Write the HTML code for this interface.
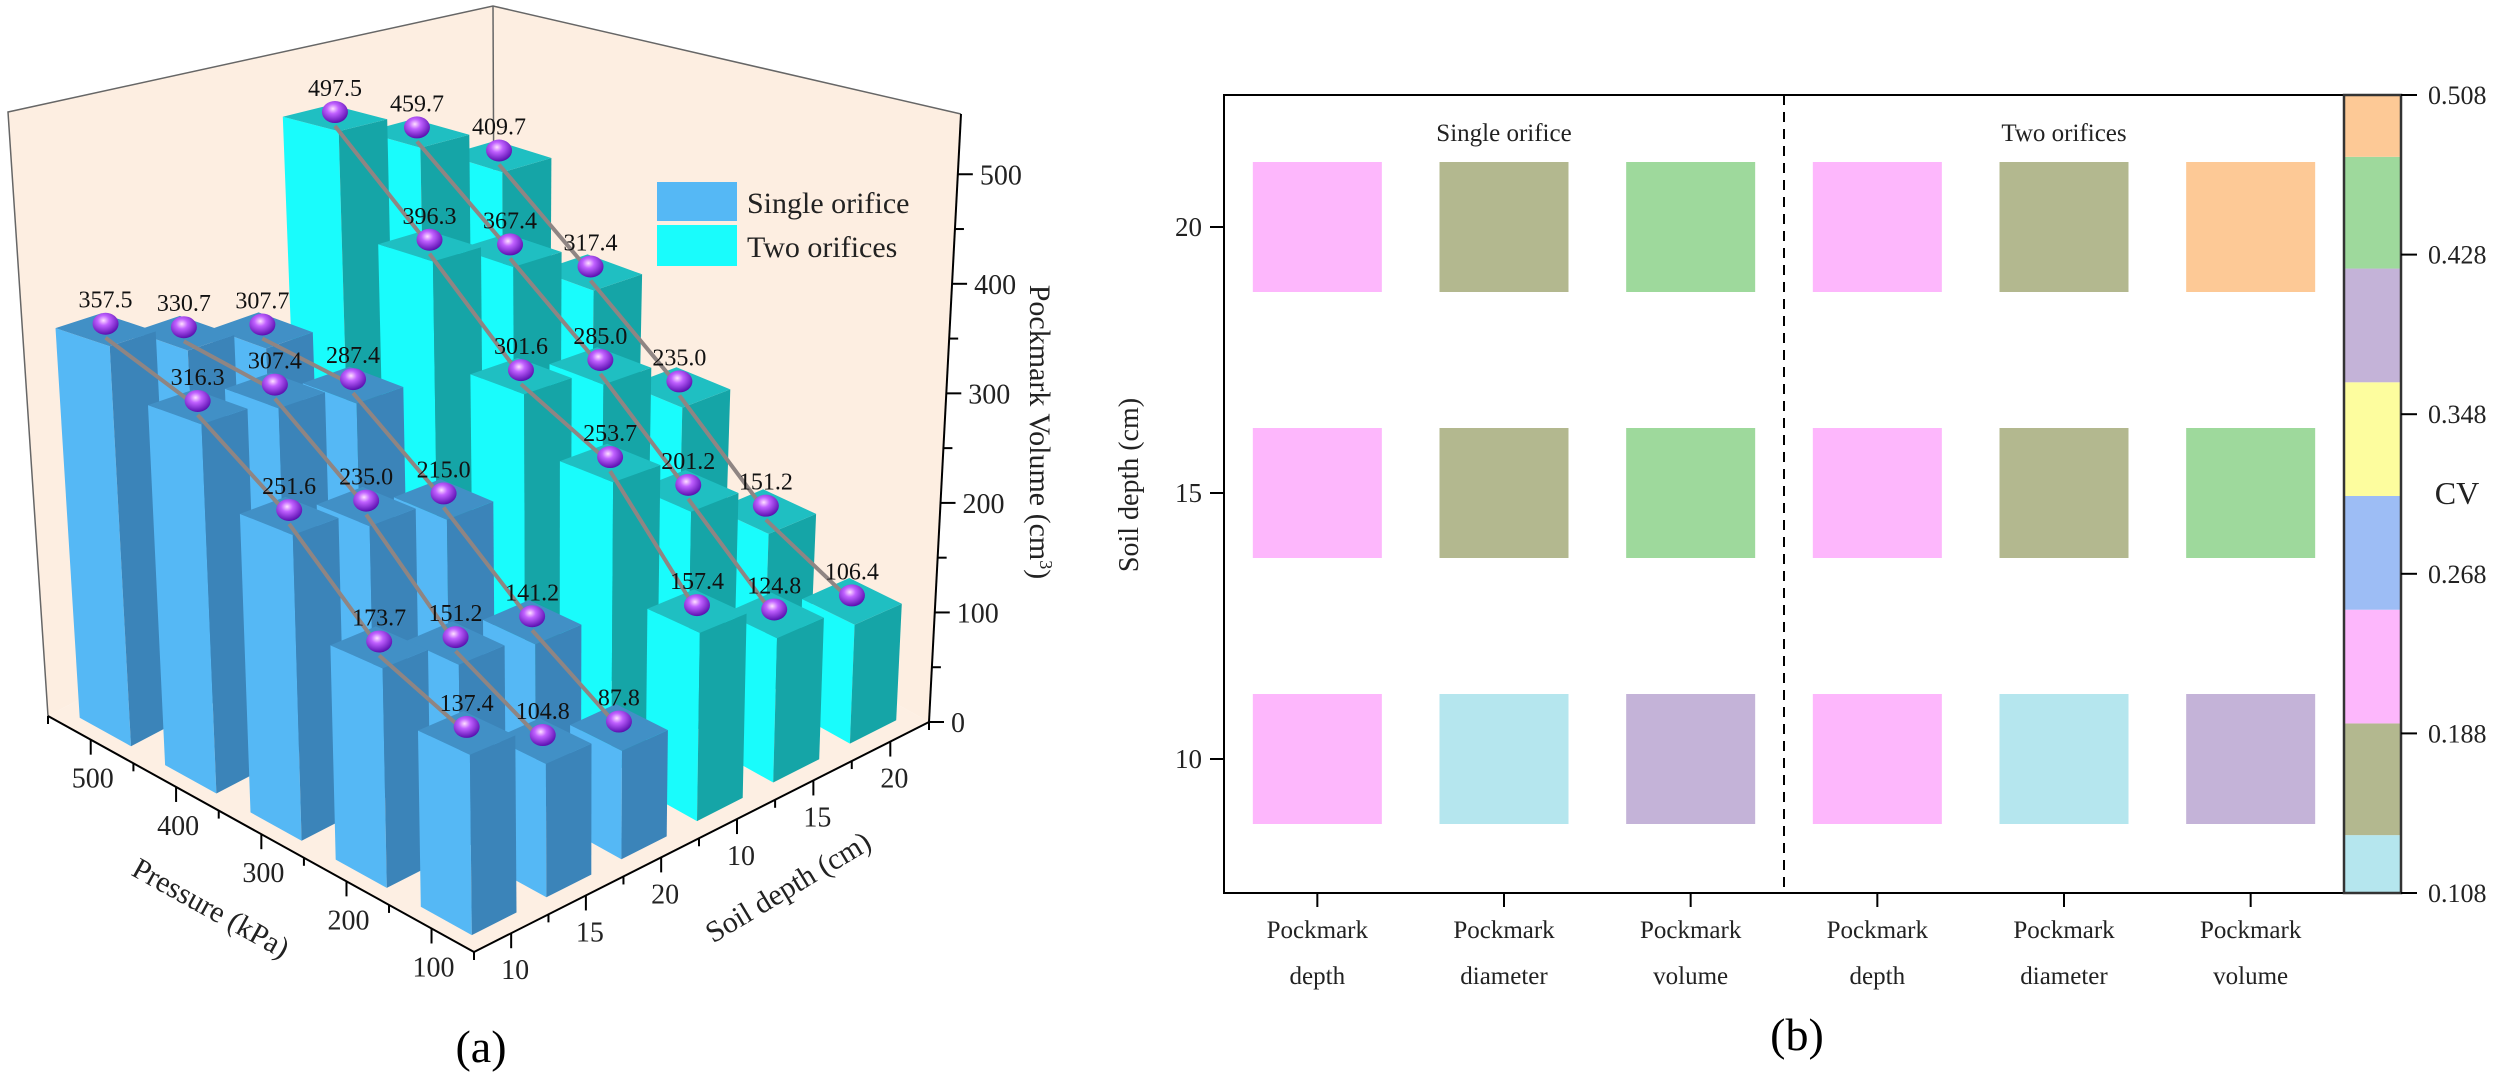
<!DOCTYPE html>
<html><head><meta charset="utf-8">
<style>
html,body{margin:0;padding:0;background:#fff;}
svg{display:block;font-family:"Liberation Serif",serif;}
</style></head>
<body>
<svg id="fig" width="2500" height="1075" viewBox="0 0 2500 1075" xmlns="http://www.w3.org/2000/svg">
<defs>
<radialGradient id="sph" cx="0.42" cy="0.35" r="0.65">
<stop offset="0" stop-color="#ffe0ff"/><stop offset="0.35" stop-color="#c060ff"/><stop offset="1" stop-color="#5a10b0"/>
</radialGradient>
</defs>
<g id="chartA"></g>
<g id="chartB"></g>
</svg>
<script>
// ---------- Chart (a) data ----------
const pressures = [100, 200, 300, 400, 500];
const depths = [10, 15, 20];
const singleVals = [ // rows: pressure 100..500, cols depth 10,15,20
  [137.4, 104.8, 87.8],
  [173.7, 151.2, 141.2],
  [251.6, 235.0, 215.0],
  [316.3, 307.4, 287.4],
  [357.5, 330.7, 307.7]
];
const twoVals = [
  [157.4, 124.8, 106.4],
  [253.7, 201.2, 151.2],
  [301.6, 285.0, 235.0],
  [396.3, 367.4, 317.4],
  [497.5, 459.7, 409.7]
];
const zTicks = [0, 100, 200, 300, 400, 500];
const seriesNames = ["Single orifice", "Two orifices"];

// ---------- Chart (b) data ----------
const hmRows = [20, 15, 10];
const hmCols = [["Pockmark","depth"],["Pockmark","diameter"],["Pockmark","volume"],["Pockmark","depth"],["Pockmark","diameter"],["Pockmark","volume"]];
const hmValues = [ // rows 20,15,10
  [0.22, 0.165, 0.45, 0.22, 0.165, 0.49],
  [0.22, 0.165, 0.45, 0.22, 0.165, 0.45],
  [0.22, 0.12, 0.39, 0.22, 0.12, 0.39]
];
const cvLevels = [0.108, 0.137, 0.193, 0.250, 0.307, 0.364, 0.421, 0.477, 0.508];
const cvColors = ["#b5e6ee","#b3b88f","#fdb7fc","#9dbdf5","#fdfd9e","#c4b3d8","#9ed99c","#fdc996"];
const cvTicks = [0.108, 0.188, 0.268, 0.348, 0.428, 0.508];

const NS = "http://www.w3.org/2000/svg";
function mk(tag, parent, attrs){const e=document.createElementNS(NS,tag);for(const k in attrs)e.setAttribute(k,attrs[k]);parent.appendChild(e);return e;}

// ---------- projection for (a) ----------
function homog(q){
  const [p0,p1,p2,p3]=q;
  const dx1=p1[0]-p2[0], dx2=p3[0]-p2[0], dx3=p0[0]-p1[0]+p2[0]-p3[0];
  const dy1=p1[1]-p2[1], dy2=p3[1]-p2[1], dy3=p0[1]-p1[1]+p2[1]-p3[1];
  const den=dx1*dy2-dy1*dx2;
  const g=(dx3*dy2-dy3*dx2)/den, h=(dx1*dy3-dy1*dx3)/den;
  const a=p1[0]-p0[0]+g*p1[0], b=p3[0]-p0[0]+h*p3[0], c=p0[0];
  const d=p1[1]-p0[1]+g*p1[1], e=p3[1]-p0[1]+h*p3[1], f=p0[1];
  return (s,t)=>{const w=g*s+h*t+1;return [(a*s+b*t+c)/w,(d*s+e*t+f)/w];};
}
const HMAX=555;
const floorH = homog([[474,952],[48,716],[495,480],[929,722]]);
const topH = homog([[466,214],[8,112],[493,6],[961,114]]);
function P(s,t,z){const a=floorH(s,t), b=topH(s,t), r=z/HMAX;return [a[0]+(b[0]-a[0])*r, a[1]+(b[1]-a[1])*r];}
function pts(arr){return arr.map(p=>p[0].toFixed(1)+","+p[1].toFixed(1)).join(" ");}
const sOf = i => (i+0.5)/pressures.length;
const tOf = k => (k+0.5)/6;

const A=document.getElementById("chartA");
const wallL=mk("polygon",A,{points:pts([P(1,0,0),P(1,1,0),P(1,1,HMAX),P(1,0,HMAX)]),fill:"#fdeee1",stroke:"none"});


const wallR=mk("polygon",A,{points:pts([P(1,1,0),P(0,1,0),P(0,1,HMAX),P(1,1,HMAX)]),fill:"#fdeee1",stroke:"none"});


const floorP=mk("polygon",A,{points:pts([P(0,0,0),P(1,0,0),P(1,1,0),P(0,1,0)]),fill:"#fdefe3",stroke:"none"});


const edges=mk("polyline",A,{points:pts([P(1,0,0),P(1,0,HMAX),P(1,1,HMAX),P(0,1,HMAX)]),fill:"none",stroke:"#666","stroke-width":1.5});


const backLine=mk("line",A,{x1:P(1,1,0)[0],y1:P(1,1,0)[1],x2:P(1,1,HMAX)[0],y2:P(1,1,HMAX)[1],stroke:"#666","stroke-width":1.5});



const items=[];
const pal=[{light:"#55b8f5",dark:"#3b84b9",top:"#4190c6"},{light:"#19fcfc",dark:"#15a5a7",top:"#1fbfc2"}];
[singleVals,twoVals].forEach((vals,si)=>{
  vals.forEach((row,i)=>{row.forEach((v,k)=>{
    items.push({si,i,k,v,s:sOf(i),t:tOf(si*3+k)});
  });});
});
items.sort((a,b)=>(b.s+b.t)-(a.s+a.t));
const hs=0.3/pressures.length, ht=0.3/6;
const labels=[];
items.forEach(it=>{
  const g=mk("g",A,{});
  
  
  const s0=it.s-hs,s1=it.s+hs,t0=it.t-ht,t1=it.t+ht,h=it.v,c=pal[it.si];
  mk("polygon",g,{points:pts([P(s0,t0,0),P(s1,t0,0),P(s1,t0,h),P(s0,t0,h)]),fill:c.light});
  mk("polygon",g,{points:pts([P(s0,t0,0),P(s0,t1,0),P(s0,t1,h),P(s0,t0,h)]),fill:c.dark});
  mk("polygon",g,{points:pts([P(s0,t0,h),P(s1,t0,h),P(s1,t1,h),P(s0,t1,h)]),fill:c.top});
  const vals=it.si?twoVals:singleVals;
  if(it.i<pressures.length-1){
    const b=P(sOf(it.i+1),it.t,vals[it.i+1][it.k]), f=P(it.s,it.t,h);
    const ln=mk("line",A,{x1:b[0],y1:b[1]+8,x2:f[0],y2:f[1],stroke:"#8f8583","stroke-width":4});
    
    
  }
  const c0=P(it.s,it.t,h);
  const sp=mk("ellipse",A,{cx:c0[0],cy:c0[1]-6,rx:13,ry:11,fill:"url(#sph)"});
  
  
  labels.push([c0[0],c0[1]-22,it.v.toFixed(1)]);
});
labels.forEach(l=>{
  const tx=mk("text",A,{x:l[0],y:l[1],"font-size":24,"text-anchor":"middle",fill:"#111"});
  tx.textContent=l[2];
  
  
});

const ax=mk("g",A,{stroke:"#000","stroke-width":2});


let a0=P(0,0,0),a1=P(1,0,0);
mk("line",ax,{x1:a0[0],y1:a0[1],x2:a1[0],y2:a1[1]});
a1=P(0,1,0);
mk("line",ax,{x1:a0[0],y1:a0[1],x2:a1[0],y2:a1[1]});
a0=P(0,1,0);a1=P(0,1,HMAX);
mk("line",ax,{x1:a0[0],y1:a0[1],x2:a1[0],y2:a1[1]});
for(let i=0;i<=pressures.length;i++){const p=P(i/pressures.length,0,0);mk("line",ax,{x1:p[0],y1:p[1],x2:p[0],y2:p[1]+8});}
pressures.forEach((pr,i)=>{const p=P(sOf(i),0,0);mk("line",ax,{x1:p[0],y1:p[1],x2:p[0],y2:p[1]+15});
  const tx=mk("text",A,{x:p[0]+2,y:p[1]+48,"font-size":28,"text-anchor":"middle",fill:"#222"});tx.textContent=pr;
  
  });
for(let k=0;k<=6;k++){const p=P(0,k/6,0);mk("line",ax,{x1:p[0],y1:p[1],x2:p[0],y2:p[1]+8});}
for(let k=0;k<6;k++){const p=P(0,tOf(k),0);mk("line",ax,{x1:p[0],y1:p[1],x2:p[0],y2:p[1]+15});
  const tx=mk("text",A,{x:p[0]+4,y:p[1]+46,"font-size":28,"text-anchor":"middle",fill:"#222"});tx.textContent=depths[k%3];
  
  }
for(let z=0;z<=500;z+=50){const p=P(0,1,z);mk("line",ax,{x1:p[0],y1:p[1],x2:p[0]+(z%100?9:15),y2:p[1]});}
zTicks.forEach(z=>{const p=P(0,1,z);const tx=mk("text",A,{x:p[0]+22,y:p[1]+10,"font-size":28,fill:"#222"});tx.textContent=z;
  
  });
</script>
<script>
(function(){
const A=document.getElementById("chartA");
function mk(tag,attrs,txt){const e=document.createElementNS("http://www.w3.org/2000/svg",tag);for(const k in attrs)e.setAttribute(k,attrs[k]);if(txt!==undefined)e.textContent=txt;A.appendChild(e);return e;}
let t=mk("text",{x:211,y:918,"font-size":30,"text-anchor":"middle",transform:"rotate(29 211 908)",fill:"#222"},"Pressure (kPa)");


t=mk("text",{x:788,y:897,"font-size":30,"text-anchor":"middle",transform:"rotate(-31 788 887)",fill:"#222"},"Soil depth (cm)");


t=mk("text",{x:1040,y:442,"font-size":30,"text-anchor":"middle",transform:"rotate(90 1040 432)",fill:"#222"});
t.innerHTML='Pockmark Volume (cm<tspan baseline-shift="super" font-size="18">3</tspan>)';


let r=mk("rect",{x:657,y:182,width:80,height:39,fill:"#55b8f5"});


r=mk("rect",{x:657,y:225,width:80,height:41,fill:"#19fcfc"});


t=mk("text",{x:747,y:213,"font-size":30,fill:"#222"},"Single orifice");


t=mk("text",{x:747,y:257,"font-size":30,fill:"#222"},"Two orifices");


t=mk("text",{x:481,y:1062,"font-size":46,"text-anchor":"middle",fill:"#000"},"(a)");


})();
</script>
<script>
(function(){
const B=document.getElementById("chartB");
const NS="http://www.w3.org/2000/svg";
function mk(tag,attrs,txt){const e=document.createElementNS(NS,tag);for(const k in attrs)e.setAttribute(k,attrs[k]);if(txt!==undefined)e.textContent=txt;B.appendChild(e);return e;}
const X0=1224, X1=2344, Y0=95, Y1=893;
const colX = i => X0 + (X1-X0)*(i+0.5)/hmCols.length;
const rowY = v => 493 - (v-15)*53.2;
const cellW=129, cellH=130;
function cvColor(v){for(let i=0;i<cvColors.length;i++){if(v<cvLevels[i+1])return cvColors[i];}return cvColors[cvColors.length-1];}
hmValues.forEach((row,r)=>row.forEach((v,c)=>{
  const cell=mk("rect",{x:colX(c)-cellW/2,y:rowY(hmRows[r])-cellH/2,width:cellW,height:cellH,fill:cvColor(v)});
  
  
}));
let d=mk("line",{x1:(X0+X1)/2,y1:Y0,x2:(X0+X1)/2,y2:Y1,stroke:"#000","stroke-width":2,"stroke-dasharray":"10,7"});


let f=mk("rect",{x:X0,y:Y0,width:X1-X0,height:Y1-Y0,fill:"none",stroke:"#000","stroke-width":2});


let t=mk("text",{x:colX(1),y:141,"font-size":25,"text-anchor":"middle",fill:"#222"},"Single orifice");


t=mk("text",{x:colX(4),y:141,"font-size":25,"text-anchor":"middle",fill:"#222"},"Two orifices");


hmRows.forEach(v=>{const y=rowY(v);
  const l=mk("line",{x1:X0-14,y1:y,x2:X0,y2:y,stroke:"#000","stroke-width":2});
  
  
  const tx=mk("text",{x:X0-22,y:y+9,"font-size":27,"text-anchor":"end",fill:"#222"},String(v));
  
  });
hmCols.forEach((c,i)=>{const x=colX(i);
  const l=mk("line",{x1:x,y1:Y1,x2:x,y2:Y1+14,stroke:"#000","stroke-width":2});
  
  
  const t1=mk("text",{x:x,y:938,"font-size":25,"text-anchor":"middle",fill:"#222"},c[0]);
  
  
  const t2=mk("text",{x:x,y:984,"font-size":25,"text-anchor":"middle",fill:"#222"},c[1]);
  
  });
t=mk("text",{x:1147,y:494,"font-size":28,"text-anchor":"middle",transform:"rotate(-90 1138 494)",fill:"#222"},"Soil depth (cm)");


const CX0=2344, CX1=2401;
const cy = v => Y1 - (v-cvLevels[0])/(cvLevels[cvLevels.length-1]-cvLevels[0])*(Y1-Y0);
cvColors.forEach((c,i)=>{
  const r=mk("rect",{x:CX0,y:cy(cvLevels[i+1]),width:CX1-CX0,height:cy(cvLevels[i])-cy(cvLevels[i+1]),fill:c});
  
  
});
let cb=mk("rect",{x:CX0,y:Y0,width:CX1-CX0,height:Y1-Y0,fill:"none",stroke:"#333","stroke-width":2.5});


cvTicks.forEach(v=>{const y=cy(v);
  const l=mk("line",{x1:CX1,y1:y,x2:CX1+16,y2:y,stroke:"#000","stroke-width":2});
  
  
  const tx=mk("text",{x:CX1+27,y:y+9,"font-size":26,fill:"#222"},v.toFixed(3));
  
  });
t=mk("text",{x:2457,y:504,"font-size":32,"text-anchor":"middle",fill:"#222"},"CV");


t=mk("text",{x:1797,y:1050,"font-size":46,"text-anchor":"middle",fill:"#000"},"(b)");


})();
</script>
</body></html>
